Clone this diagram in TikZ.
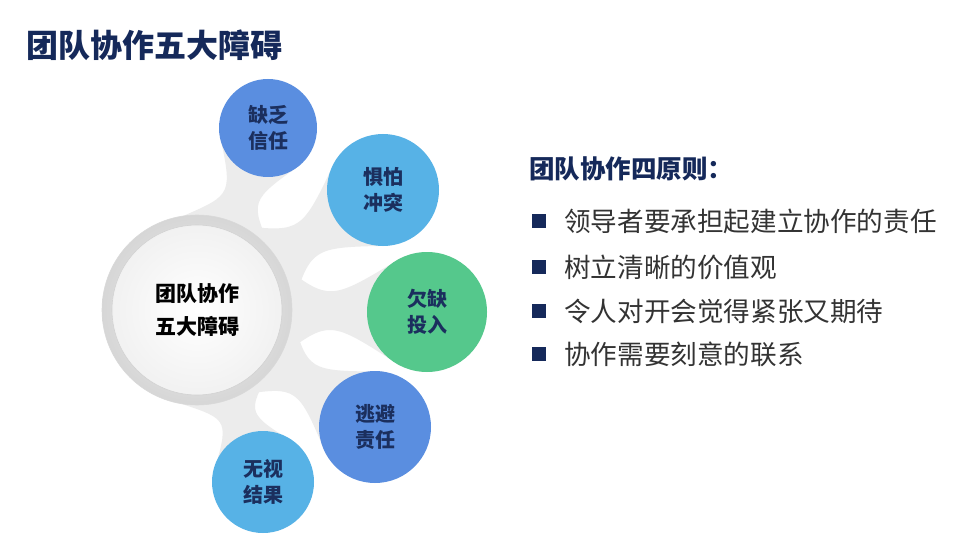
\documentclass[tikz,border=0pt]{standalone}
\usepackage{fontspec}
\newfontfamily\cjk{Noto Sans CJK SC}
\usetikzlibrary{calc}
\definecolor{navy}{HTML}{15295A}
\definecolor{txtnavy}{HTML}{1B2F5E}
\definecolor{bluea}{HTML}{5A8EE0}
\definecolor{blueb}{HTML}{57B2E6}
\definecolor{greena}{HTML}{55C88C}
\definecolor{bandc}{HTML}{ECECEC}
\definecolor{bodytxt}{HTML}{333333}
\tikzset{
  sat/.style={circle, inner sep=0pt, align=center, text=txtnavy,
    font=\cjk\bfseries\fontsize{20}{26}\selectfont},
  bandfill/.style={fill=bandc},
  bullettxt/.style={anchor=west, inner sep=0pt, text=bodytxt, font=\cjk\fontsize{26.6}{30}\selectfont},
  bulletsq/.style={fill=navy, minimum size=14pt, inner sep=0pt},
}
\newcommand\myband[2]{%
  \pgfmathsetmacro\pA{#2+30}\pgfmathsetmacro\pB{#2-30}%
  \pgfmathsetmacro\qA{#2+180-65}\pgfmathsetmacro\qB{#2+180+65}%
  \pgfmathsetmacro\qM{#2+180}%
  \coordinate (mid#1) at ($(c.#2)!0.5!(#1.\qM)$);
  \coordinate (ma#1) at ($(mid#1)!9pt!90:(#1)$);
  \coordinate (mb#1) at ($(mid#1)!9pt!-90:(#1)$);
  \fill[bandfill] (c.\pA) .. controls (ma#1) .. (#1.\qA) -- (#1.\qB)
     .. controls (mb#1) .. (c.\pB) -- cycle;}
\begin{document}
\begin{tikzpicture}[x=1pt,y=-1pt]
\useasboundingbox (0,0) rectangle (960,540);
\fill[white] (0,0) rectangle (960,540);
% title
\node[anchor=west, inner sep=0pt, text=navy, font=\cjk\bfseries\fontsize{32}{34}\selectfont] (title) at (26,45) {团队协作五大障碍};
% nodes (coordinates for geometry first)
\node[circle, minimum size=190pt, inner sep=0pt] (c) at (197,310) {};
\node[sat, minimum size=98pt] (s1) at (268,128) {};
\node[sat, minimum size=112pt] (s2) at (383,190) {};
\node[sat, minimum size=120pt] (s3) at (427,312) {};
\node[sat, minimum size=112pt] (s4) at (375,427) {};
\node[sat, minimum size=102pt] (s5) at (263,482) {};
% bands
\myband{s1}{68.7}
\myband{s2}{32.8}
\myband{s3}{-0.5}
\myband{s4}{-33.3}
\myband{s5}{-69}
% center circle
\node[circle, minimum size=190pt, inner sep=0pt, draw=gray!30, line width=0.6pt,
  inner color=gray!10, outer color=gray!32,
  font=\cjk\bfseries\fontsize{21}{33}\selectfont, align=center, text=black,
  path picture={\shade[inner color=white, outer color=gray!12] (path picture bounding box.center) circle (85pt);
                \draw[gray!35, line width=0.6pt] (path picture bounding box.center) circle (85pt);}]
  (cc) at (c) {团队协作\\五大障碍};
% satellites
\node[sat, fill=bluea, minimum size=98pt] at (s1) {缺乏\\信任};
\node[sat, fill=blueb, minimum size=112pt] at (s2) {惧怕\\冲突};
\node[sat, fill=greena, minimum size=120pt] at (s3) {欠缺\\投入};
\node[sat, fill=bluea, minimum size=112pt] at (s4) {逃避\\责任};
\node[sat, fill=blueb, minimum size=102pt] at (s5) {无视\\结果};
% right side
\node[anchor=west, inner sep=0pt, text=navy, font=\cjk\bfseries\fontsize{25.5}{30}\selectfont] (head) at (529,169) {团队协作四原则：};
\node[bulletsq] (b1) at (539,221) {};
\node[bulletsq] (b2) at (539,267) {};
\node[bulletsq] (b3) at (539,311) {};
\node[bulletsq] (b4) at (539,354) {};
\node[bullettxt] (t1) at (564,221) {领导者要承担起建立协作的责任};
\node[bullettxt] (t2) at (564,267) {树立清晰的价值观};
\node[bullettxt] (t3) at (564,311) {令人对开会觉得紧张又期待};
\node[bullettxt] (t4) at (564,354) {协作需要刻意的联系};
\end{tikzpicture}
\end{document}
